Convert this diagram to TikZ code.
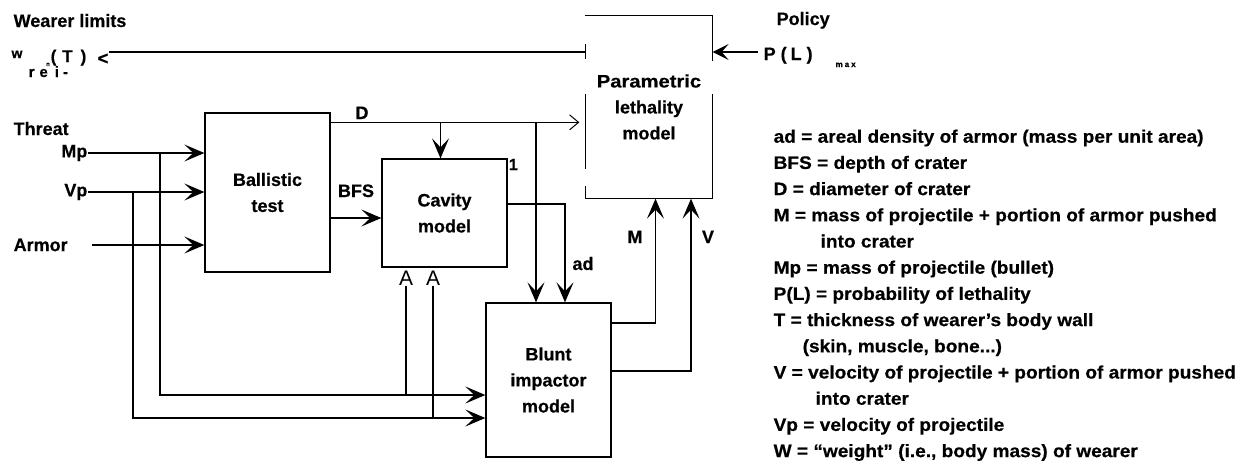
\documentclass[tikz,border=0pt]{standalone}
\usepackage{fontspec}
\setmainfont{Liberation Sans}[BoldFeatures={FakeBold=0.5}]
\newfontfamily\legendfont[FakeStretch=1.06, BoldFeatures={FakeBold=0.5}]{Liberation Sans}
\usetikzlibrary{arrows.meta,positioning}

\begin{document}
\begin{tikzpicture}[x=1pt, y=-1pt, line width=1.3pt,
    >={Stealth[length=20pt,width=17pt,inset=9pt]},
    every node/.style={inner sep=0pt, font=\bfseries\fontsize{18}{26}\selectfont},
    modelbox/.style={draw, align=center, minimum width=125pt},
    lbl/.style={anchor=base},
    legend/.style={anchor=base west, font=\legendfont\bfseries\fontsize{18}{26}\selectfont},
    barb/.style={-{Straight Barb[length=9pt,width=15pt,line width=1pt]}},
    openhead/.style={anchor=base, font=\mdseries\fontsize{21}{21}\selectfont}]
    \useasboundingbox (0,0) rectangle (1245,464);

    % 1. model boxes
    \node[modelbox, minimum height=159pt] (ballistic) at (267.5,192.5) {Ballistic\\test};
    \node[modelbox, minimum height=108pt] (cavity) at (444.5,213) {Cavity\\model};
    \node[modelbox, minimum height=154pt] (blunt) at (548.5,380) {Blunt\\impactor\\model};
    \node[modelbox, draw=none, minimum width=126pt, minimum height=182pt] (param) at (649,107)
        {\scalebox{1.12}[1]{Parametric}\\lethality\\model};
    \node[anchor=north west, font=\bfseries\fontsize{16}{16}\selectfont] (one) at ([xshift=0.5pt]cavity.north east) {1};

    % the lethality box is broken on its left and right sides
    \draw (param.north west) -- (param.north east) -- ++(0,46);
    \draw ([yshift=-79pt]param.north east) -- (param.south east) -- (param.south west) -- ++(0,-13);
    \draw ([yshift=-79pt]param.north west) -- ++(0,75);
    \draw ([yshift=-29pt]param.north west) -- ++(0,15);

    % 2. inputs on the left
    \node[anchor=base west] (wearer) at (13,27) {Wearer limits};
    \node[anchor=base west] (threat) at (13,135) {Threat};
    \node[anchor=east] (mp) at (88,153) {Mp};
    \node[anchor=east] (vp) at (88,192) {Vp};
    \node[anchor=west] (armor) at (13,245) {Armor};
    \coordinate (armorin) at (92,245);

    % wearer limit symbol
    \node[anchor=base, font=\bfseries\fontsize{14}{14}\selectfont] (wsym) at (17,58) {w};
    \node[anchor=base west, font=\bfseries\fontsize{15}{15}\selectfont] (wsub) at (28,77) {r\hspace{5pt}e\hspace{7pt}i};
    \node[anchor=base, font=\bfseries\fontsize{6}{6}\selectfont] (wn) at (48,66) {n};
    \node[anchor=base, font=\bfseries\fontsize{15}{15}\selectfont] (wdash) at (65.5,77) {-};
    \node[anchor=base west, font=\bfseries\fontsize{17}{17}\selectfont] (wT) at (50,62) {(\hspace{6pt}T\hspace{8pt})};
    \node (lt) at (103,59) {<};

    % policy on the right
    \node[anchor=base west] (policy) at (776,25) {Policy};
    \node[anchor=base west] (pl) at (763,60) {P\hspace{5pt}(\hspace{4pt}L\hspace{5pt})};
    \node[anchor=base west, font=\bfseries\fontsize{8}{8}\selectfont] (plmax) at (835,67) {m\hspace{2pt}a\hspace{2pt}x};

    % 3. threat into ballistic test and blunt impactor
    \draw[->] (mp.east) -- (mp.east -| ballistic.west);
    \draw[->] (vp.east) -- (vp.east -| ballistic.west);
    \draw[->] (armorin) -- (armorin -| ballistic.west);

    \coordinate (mpsplit) at ([xshift=72pt]mp.east);
    \coordinate (vpsplit) at ([xshift=45pt]vp.east);
    \coordinate (mpbus) at ([yshift=-15pt]blunt.west);
    \coordinate (vpbus) at ([yshift=-38pt]blunt.west);
    \draw[->] (mpsplit) |- (mpbus);
    \draw[->] (vpsplit) |- (vpbus);

    % open heads under the cavity model
    \node[openhead] (cavmp) at (406,285) {A};
    \node[openhead] (cavvp) at (433,285) {A};
    \draw (cavmp.south) -- (cavmp.south |- mpbus);
    \draw (cavvp.south) -- (cavvp.south |- vpbus);

    % 4. crater data
    \coordinate (dtap) at ([yshift=-10pt]ballistic.north east);
    \coordinate (dtocav) at ([xshift=-4pt]cavity.north);
    \coordinate (dtoblunt) at ([xshift=-12.5pt]blunt.north);
    \draw[barb, shorten >=6pt] (dtap) -- (dtap -| param.west);
    \draw[->] (dtap -| dtocav) -- (dtocav);
    \draw[->] (dtap -| dtoblunt) -- (dtoblunt);
    \node[lbl] (dlab) at (362,119) {D};

    \coordinate (bfsout) at ([yshift=-25.5pt]ballistic.east);
    \draw[->] (bfsout) -- (bfsout -| cavity.west);
    \node[lbl] (bfslab) at (356,197) {BFS};

    \draw[->] ([yshift=9pt]cavity.east) -| ([xshift=16.5pt]blunt.north);
    \node[lbl] (adlab) at (583,270) {ad};

    % 5. blunt impactor into lethality model
    \draw[->] ([yshift=57pt]blunt.east) -| ([xshift=6.5pt]param.south);
    \draw[->] ([yshift=9pt]blunt.east) -| ([xshift=42pt]param.south);
    \node[lbl] (mlab) at (635,243) {M};
    \node[lbl] (vlab) at (708,243) {V};

    % 6. lethality model outputs and policy
    \coordinate (wout) at ([yshift=55pt]param.west);
    \draw (wout) -- (wout -| lt.east);
    \coordinate (plin) at ([yshift=55pt]param.east);
    \coordinate (plout) at ([xshift=-5pt]pl.west);
    \draw[->, >={Stealth[length=16pt,width=16pt,inset=7pt]}] (plout |- plin) -- (plin);

    % 7. legend
    \node[legend] (leg-ad) at (773,142.7) {ad = areal density of armor (mass per unit area)};
    \node[legend] (leg-bfs) at (773,168.9) {BFS = depth of crater};
    \node[legend] (leg-d) at (773,195.1) {D = diameter of crater};
    \node[legend] (leg-m) at (773,221.3) {M = mass of projectile + portion of armor pushed};
    \node[legend] (leg-m2) at (820,247.5) {into crater};
    \node[legend] (leg-mp) at (773,273.7) {Mp = mass of projectile (bullet)};
    \node[legend] (leg-pl) at (773,299.9) {P(L) = probability of lethality};
    \node[legend] (leg-t) at (773,326.1) {T = thickness of wearer’s body wall};
    \node[legend] (leg-t2) at (802,352.3) {(skin, muscle, bone...)};
    \node[legend] (leg-v) at (773,378.5) {V = velocity of projectile + portion of armor pushed};
    \node[legend] (leg-v2) at (815,404.7) {into crater};
    \node[legend] (leg-vp) at (773,430.9) {Vp = velocity of projectile};
    \node[legend] (leg-w) at (773,457.1) {W = “weight” (i.e., body mass) of wearer};
\end{tikzpicture}
\end{document}
